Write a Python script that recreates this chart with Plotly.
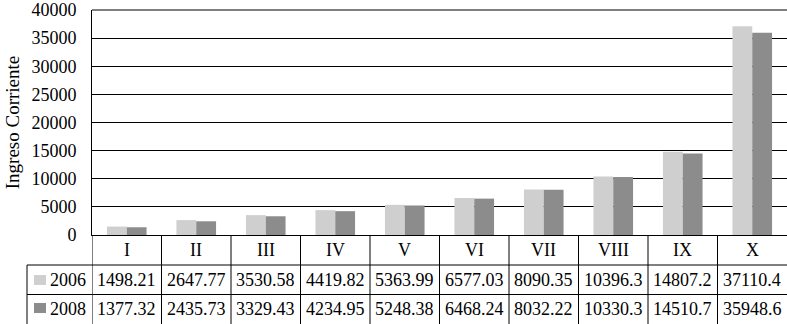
import plotly.graph_objects as go

categories = ["I", "II", "III", "IV", "V", "VI", "VII", "VIII", "IX", "X"]
series_names = ["2006", "2008"]
values_2006 = [1498.21, 2647.77, 3530.58, 4419.82, 5363.99, 6577.03, 8090.35, 10396.3, 14807.2, 37110.4]
values_2008 = [1377.32, 2435.73, 3329.43, 4234.95, 5248.38, 6468.24, 8032.22, 10330.3, 14510.7, 35948.6]
y_ticks = [0, 5000, 10000, 15000, 20000, 25000, 30000, 35000, 40000]

colors = ["#CFCFCF", "#8C8C8C"]
FONT = "Liberation Serif, Times New Roman, serif"
W, H = 787, 324
ML, MR, MT = 92, 0, 10
PH = 225
MB = H - MT - PH
PW = W - ML - MR


def px_x(p):
    return (p - ML) / PW


def px_y(p):
    return (MT + PH - p) / PH


xs = list(range(len(categories)))
fig = go.Figure()
for name, vals, col in zip(series_names, [values_2006, values_2008], colors):
    fig.add_trace(go.Bar(x=xs, y=vals, name=name, marker=dict(color=col, line=dict(width=0)),
                         hoverinfo="skip"))

fig.update_layout(
    width=W, height=H,
    margin=dict(l=ML, r=MR, t=MT, b=MB, pad=0, autoexpand=False),
    paper_bgcolor="white", plot_bgcolor="white",
    barmode="group", bargap=0.43, bargroupgap=0,
    showlegend=False,
    font=dict(family=FONT, size=18, color="black"),
    xaxis=dict(range=[-0.5, len(categories) - 0.5], showticklabels=False, showgrid=False,
               zeroline=False, showline=True, linecolor="black", linewidth=1, ticks=""),
    yaxis=dict(range=[0, 40000], tickvals=y_ticks, tickformat="d", showgrid=True,
               gridcolor="black", gridwidth=1, zeroline=False, showline=True,
               linecolor="black", linewidth=1, ticks="", ticklabelstandoff=11,
               tickfont=dict(family=FONT, size=18),
               title=dict(text="Ingreso Corriente", font=dict(family=FONT, size=19), standoff=6)),
)

shapes = []
shapes.append(dict(type="line", xref="paper", yref="paper", x0=0, x1=1, y0=1, y1=1,
                   line=dict(color="black", width=1)))
y_row1 = px_y(265)
y_row2 = px_y(294.5)
y_bot = px_y(330)
x_left = px_x(27)
for yy in [y_row1, y_row2]:
    shapes.append(dict(type="line", xref="paper", yref="paper", x0=x_left, x1=1, y0=yy, y1=yy,
                       line=dict(color="black", width=1)))
shapes.append(dict(type="line", xref="paper", yref="paper", x0=x_left, x1=x_left, y0=y_row1, y1=y_bot,
                   line=dict(color="black", width=1)))
for k in range(len(categories)):
    xb = k - 0.5
    shapes.append(dict(type="line", xref="x", yref="paper", x0=xb, x1=xb, y0=0, y1=y_bot,
                       line=dict(color="black", width=1)))
key_rows = [(275, 285), (303, 313)]
for (t, b), col in zip(key_rows, colors):
    shapes.append(dict(type="rect", xref="paper", yref="paper", x0=px_x(34), x1=px_x(46),
                       y0=px_y(b), y1=px_y(t), fillcolor=col, line=dict(width=0)))
fig.update_layout(shapes=shapes)

annotations = []
for i, c in enumerate(categories):
    annotations.append(dict(x=i, y=px_y(250), xref="x", yref="paper", text=c, showarrow=False,
                            xanchor="center", yanchor="middle",
                            font=dict(family=FONT, size=18, color="black")))
row_ys = [px_y(280), px_y(309)]
for name, vals, yy in zip(series_names, [values_2006, values_2008], row_ys):
    annotations.append(dict(x=px_x(48), y=yy, xref="paper", yref="paper", text=name, showarrow=False,
                            xanchor="left", yanchor="middle",
                            font=dict(family=FONT, size=18, color="black")))
    for i, v in enumerate(vals):
        annotations.append(dict(x=i, y=yy, xref="x", yref="paper", text=f"{v:g}", showarrow=False,
                                xanchor="center", yanchor="middle",
                                font=dict(family=FONT, size=18, color="black")))
fig.update_layout(annotations=annotations)

fig.write_html("out.html", config={"displayModeBar": False},
               post_script="document.body.style.margin='0px';")
